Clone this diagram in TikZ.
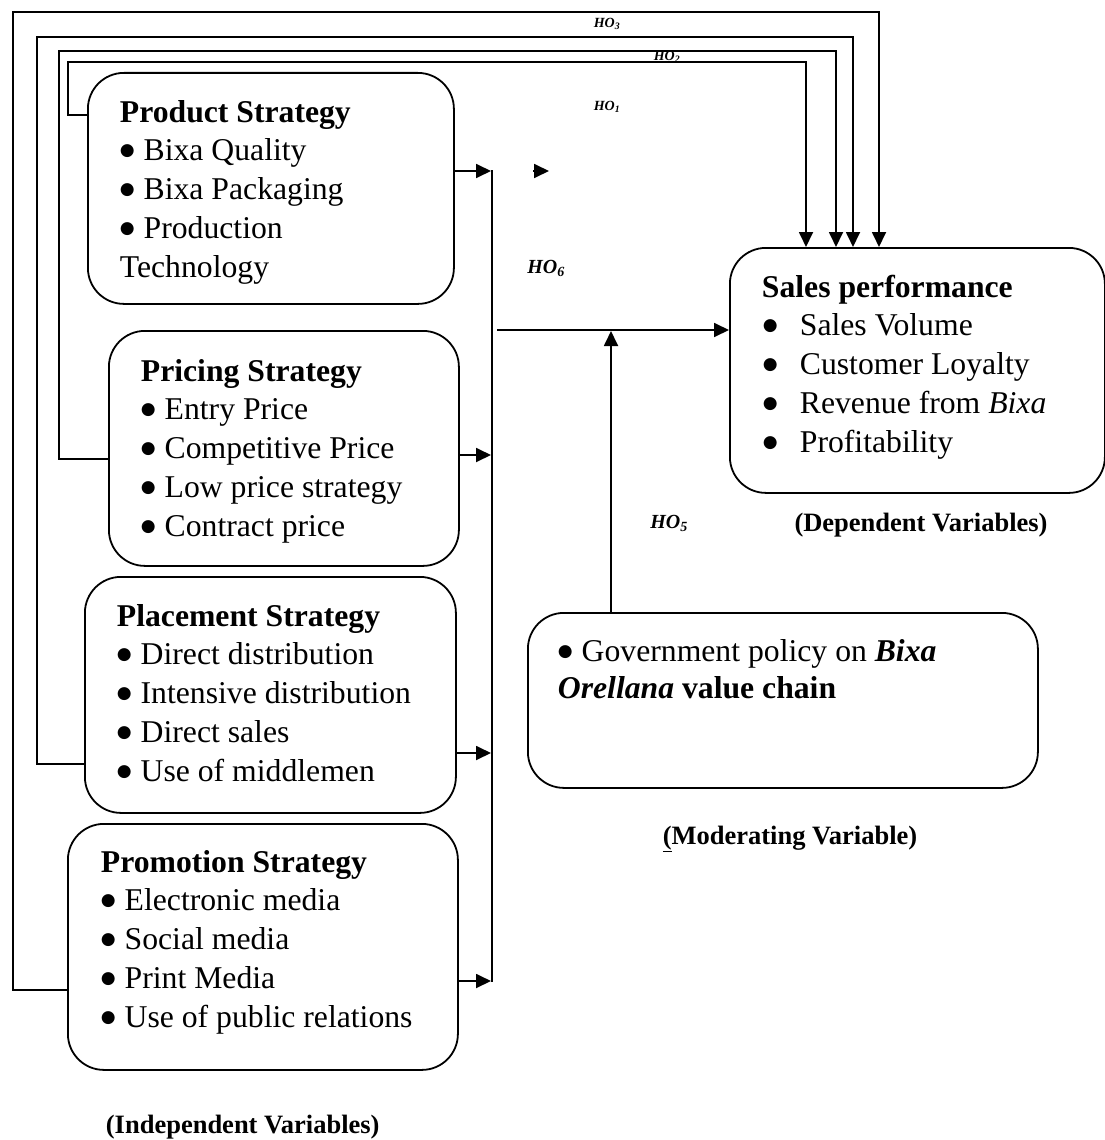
\documentclass[tikz,border=0pt]{standalone}
\usepackage{fontspec}
\setmainfont{Liberation Serif}
\newfontfamily\dvs{DejaVu Sans}
\usetikzlibrary{arrows.meta}
\newcommand{\bul}{\makebox[0.5em][l]{\raisebox{5pt}{\dvs\fontsize{17}{17}\selectfont ●}}}
\begin{document}
\begin{tikzpicture}[x=1pt,y=-1pt,
  line width=1.8pt,
  box/.style={draw, rounded corners=36pt, inner sep=0pt, anchor=north west},
  arr/.style={-{Triangle[length=15pt,width=14pt]}},
  txt/.style={anchor=base west, inner sep=0pt, font=\fontsize{31.7}{38.8}\selectfont},
  lab/.style={inner sep=0pt, font=\fontsize{26.5}{30}\selectfont\bfseries},
  ho/.style={inner sep=0pt, font=\fontsize{20}{24}\selectfont\bfseries\itshape},
  hos/.style={inner sep=0pt, font=\fontsize{14}{17}\selectfont\bfseries\itshape}]
\useasboundingbox (0,0) rectangle (1105,1140);

% boxes
\node[box, minimum width=366pt, minimum height=231pt] (prod)  at (87,72)   {};
\node[box, minimum width=350pt, minimum height=235pt] (price) at (108,330) {};
\node[box, minimum width=371pt, minimum height=236pt] (place) at (84,576)  {};
\node[box, minimum width=390pt, minimum height=246pt] (promo) at (67,823)  {};
\node[box, minimum width=375pt, minimum height=245pt] (sales) at (729,247) {};
\node[box, minimum width=510pt, minimum height=175pt] (gov)   at (527,612) {};

% box texts
\node[txt] (prodtxt) at (119,122) {\parbox[t]{330pt}{\textbf{Product Strategy}\\\bul\ Bixa Quality\\\bul\ Bixa Packaging\\\bul\ Production\\Technology}};
\node[txt] (pricetxt) at (140,381) {\parbox[t]{330pt}{\textbf{Pricing Strategy}\\\bul\ Entry Price\\\bul\ Competitive Price\\\bul\ Low price strategy\\\bul\ Contract price}};
\node[txt] (placetxt) at (116,626) {\parbox[t]{330pt}{\textbf{Placement Strategy}\\\bul\ Direct distribution\\\bul\ Intensive distribution\\\bul\ Direct sales\\\bul\ Use of middlemen}};
\node[txt] (promotxt) at (100,872) {\parbox[t]{340pt}{\textbf{Promotion Strategy}\\\bul\ Electronic media\\\bul\ Social media\\\bul\ Print Media\\\bul\ Use of public relations}};
\node[txt] (salestxt) at (761,297) {\parbox[t]{330pt}{\textbf{Sales performance}\\\hspace*{1pt}\makebox[37pt][l]{\bul}Sales Volume\\\hspace*{1pt}\makebox[37pt][l]{\bul}Customer Loyalty\\\hspace*{1pt}\makebox[37pt][l]{\bul}Revenue from \textit{Bixa}\\\hspace*{1pt}\makebox[37pt][l]{\bul}Profitability}};
\node[txt] (govtxt) at (557,661) {\parbox[t]{460pt}{\fontsize{31.7}{37}\selectfont \bul\ Government policy on \textbf{\textit{Bixa}}\\\textbf{\textit{Orellana}} \textbf{value chain}}};

% collector line and inputs
\coordinate (cTop) at (492,170);
\coordinate (cBot) at (492,982);
\draw (cTop) -- (cBot);
\coordinate (pIn) at (491,171);
\coordinate (rIn) at (491,455);
\coordinate (lIn) at (491,753);
\coordinate (mIn) at (491,981);
\draw[arr] (prod.east |- pIn) -- (pIn);
\draw[arr] (price.east |- rIn) -- (rIn);
\draw[arr] (place.east |- lIn) -- (lIn);
\draw[arr] (promo.east |- mIn) -- (mIn);

% lone arrowhead
\coordinate (s1) at (533,171);
\coordinate (s2) at (549,171);
\draw[arr] (s1) -- (s2);

% joint line to sales and moderator
\coordinate (mj) at (497,330);
\draw[arr] (mj) -- (sales.west |- mj);
\coordinate (mv) at (611,331);
\draw[arr] (gov.north -| mv) -- (mv);

% feedback lines
\coordinate (A1) at (13,990);  \coordinate (A2) at (13,12);  \coordinate (A3) at (879,12);
\coordinate (B1) at (37,764);  \coordinate (B2) at (37,37);  \coordinate (B3) at (853,37);
\coordinate (C1) at (59,459);  \coordinate (C2) at (59,51);  \coordinate (C3) at (836,51);
\coordinate (D1) at (68,115);  \coordinate (D2) at (68,62);  \coordinate (D3) at (806,62);
\draw[arr] (promo.west |- A1) -- (A1) -- (A2) -- (A3) -- (sales.north -| A3);
\draw[arr] (place.west |- B1) -- (B1) -- (B2) -- (B3) -- (sales.north -| B3);
\draw[arr] (price.west |- C1) -- (C1) -- (C2) -- (C3) -- (sales.north -| C3);
\draw[arr] (prod.west |- D1) -- (D1) -- (D2) -- (D3) -- (sales.north -| D3);

% hypothesis labels
\node[hos] (ho3) at (607,24)  {HO\textsubscript{3}};
\node[hos] (ho2) at (667,57)  {HO\textsubscript{2}};
\node[hos] (ho1) at (607,107) {HO\textsubscript{1}};
\node[ho]  (ho6) at (546,268) {HO\textsubscript{6}};
\node[ho]  (ho5) at (669,523) {HO\textsubscript{5}};

% variable labels
\node[lab] (dep) at (921,525) {(Dependent Variables)};
\node[lab] (mod) at (790,839) {\underline{(}Moderating Variable)};
\node[lab, anchor=base west] (ind) at (105,1133) {(Independent Variables)};
\end{tikzpicture}
\end{document}
